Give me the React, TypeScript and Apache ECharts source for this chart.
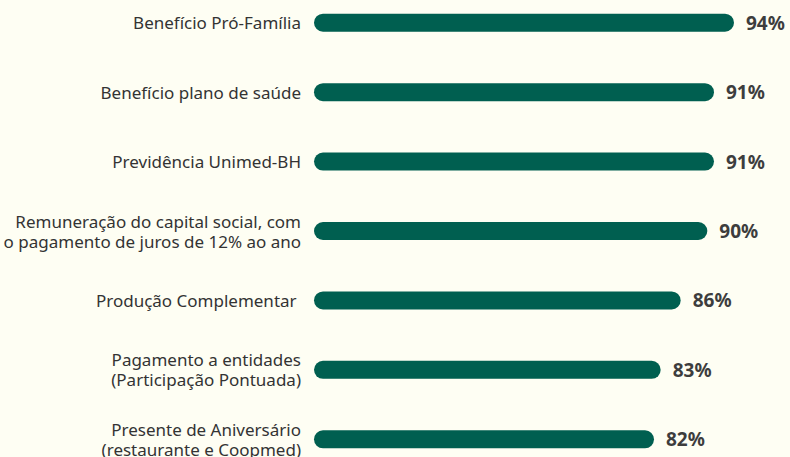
import React, { useEffect, useRef } from "react";
import * as echarts from "echarts";

const categories = [
  "Benefício Pró-Família",
  "Benefício plano de saúde",
  "Previdência Unimed-BH",
  "Remuneração do capital social, com\no pagamento de juros de 12% ao ano",
  "Produção Complementar ",
  "Pagamento a entidades\n(Participação Pontuada)",
  "Presente de Aniversário\n(restaurante e Coopmed)",
];
const values = [94, 91, 91, 90, 86, 83, 82];

export default function App() {
  const ref = useRef<HTMLDivElement>(null);
  useEffect(() => {
    if (!ref.current) return;
    const chart = echarts.init(ref.current, undefined, { renderer: "svg" });
    chart.setOption({
      animation: false,
      backgroundColor: "#fefef3",
      grid: { left: 314, top: 0, bottom: 0, right: 16, containLabel: false },
      xAxis: {
        type: "value",
        min: 31,
        max: 100,
        show: false,
      },
      yAxis: {
        type: "category",
        data: categories,
        inverse: true,
        axisLine: { show: false },
        axisTick: { show: false },
        axisLabel: {
          margin: 13,
          fontFamily: "Noto Sans",
          fontSize: 17,
          color: "#333333",
          lineHeight: 20,
          align: "right",
        },
      },
      series: [
        {
          type: "bar",
          data: values,
          barWidth: 18,
          itemStyle: { color: "#005f50", borderRadius: 9 },
          label: {
            show: true,
            position: "right",
            distance: 12,
            formatter: "{c}%",
            fontFamily: "Noto Sans",
            fontWeight: "bold",
            fontSize: 19,
            color: "#3d3d3d",
          },
        },
      ],
    });
    return () => chart.dispose();
  }, []);
  return (
    <div
      ref={ref}
      style={{ position: "fixed", left: 0, top: -12, width: 790, height: 486 }}
    />
  );
}
